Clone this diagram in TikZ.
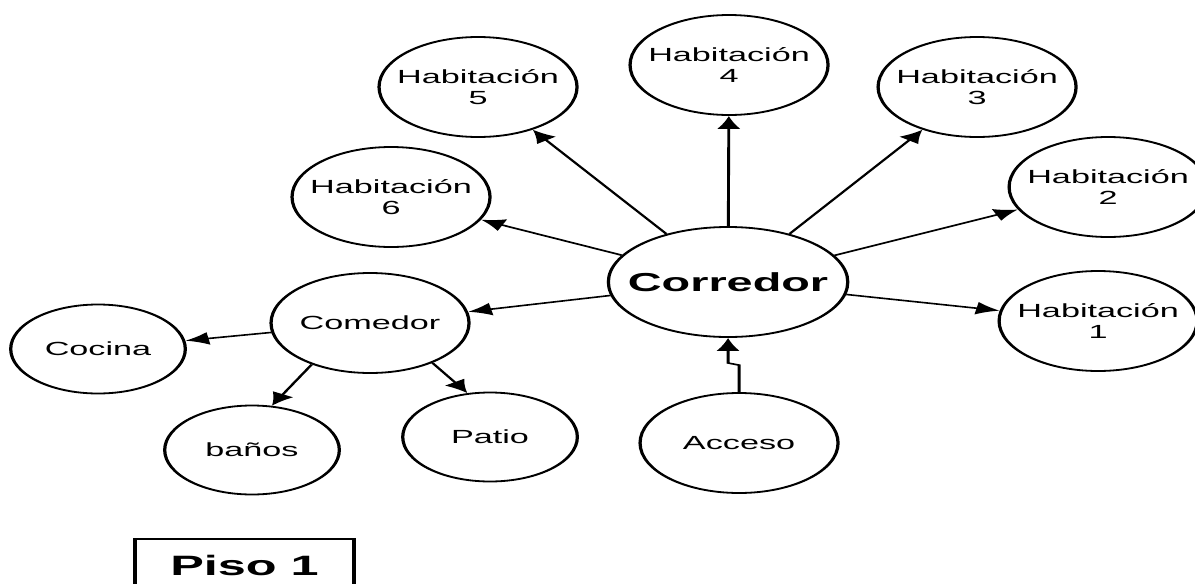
\documentclass[tikz,border=0pt]{standalone}
\usepackage{fontspec}
\setmainfont{Liberation Sans}
\usetikzlibrary{shapes.geometric}
\usetikzlibrary{arrows.meta}

\tikzset{
  room/.style={ellipse, draw=black, line width=1.8pt, inner xsep=-10pt, inner ysep=0pt,
    minimum width=110pt, minimum height=100pt, align=center,
    font=\fontsize{19}{21}\selectfont},
  small/.style={room, minimum width=97pt, minimum height=89pt},
  arr/.style={-{Latex[length=13pt,width=13pt]}, line width=1.6pt},
}

\begin{document}
\begin{tikzpicture}[x=1pt,y=-1pt]
  \useasboundingbox (0,0) rectangle (1195,584);
  \begin{scope}[transform canvas={xscale=1.8}, x=0.5556pt]
    % Place the center node
    \node[room, minimum width=133pt, minimum height=110pt, font=\fontsize{26}{28}\selectfont\bfseries] (corr) at (728,282) {Corredor};

    % Place the rooms
    \node[room] (h1) at (1098,321) {Habitación\\1};
    \node[room] (h2) at (1108,187) {Habitación\\2};
    \node[room] (h3) at (977,87) {Habitación\\3};
    \node[room] (h4) at (729,65) {Habitación\\4};
    \node[room] (h5) at (478,87) {Habitación\\5};
    \node[room] (h6) at (391,197) {Habitación\\6};

    % Place the other nodes
    \node[room] (com) at (370,323) {Comedor};
    \node[small] (coc) at (98,349) {Cocina};
    \node[small] (ban) at (252,450) {baños};
    \node[small] (pat) at (490,437) {Patio};
    \node[room] (acc) at (739,443) {Acceso};
    \coordinate (jog) at (728,363);

    \node[draw=black, line width=1.8pt, minimum width=121.7pt, minimum height=52pt,
      font=\fontsize{28}{30}\selectfont\bfseries] (piso) at (244.5,565) {Piso 1};

    % The lines!
    \draw[arr] (corr) -- (h1);
    \draw[arr] (corr) -- (h2);
    \draw[arr] (corr) -- (h3);
    \draw[arr] (corr) -- (h4);
    \draw[arr] (corr) -- (h5);
    \draw[arr] (corr) -- (h6);
    \draw[arr] (corr) -- (com);
    \draw[arr] (com) -- (coc);
    \draw[arr] (com.232) -- (ban.76);
    \draw[arr] (com.-49) -- (pat.106);
    \draw[arr] (acc.north) -- ++(0,-27) -- (jog) -- (corr.south);
  \end{scope}
\end{tikzpicture}
\end{document}
